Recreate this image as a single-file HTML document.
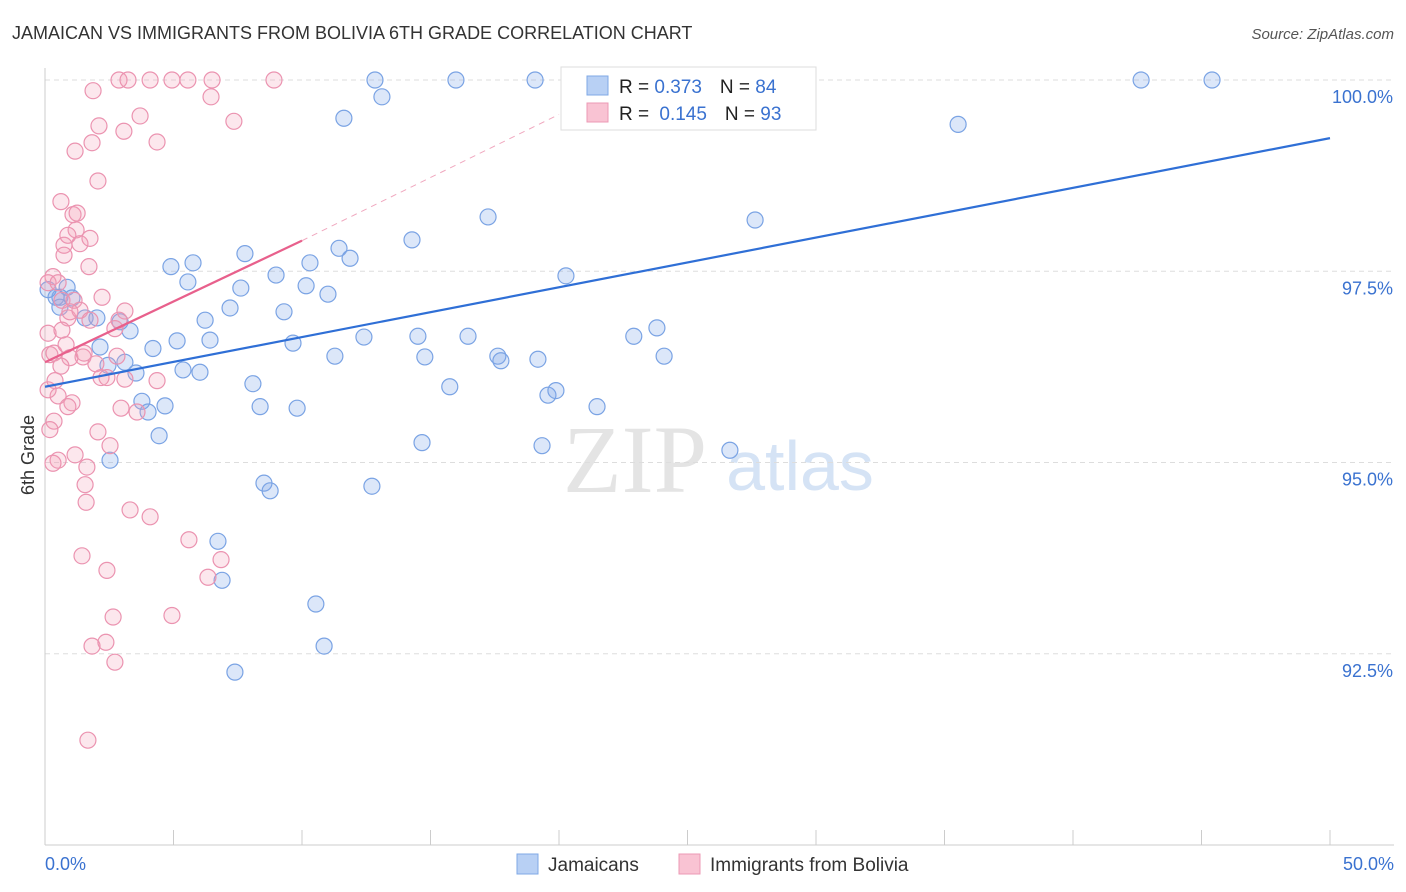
<!DOCTYPE html>
<html><head><meta charset="utf-8"><style>
body{margin:0;background:#fff;font-family:"Liberation Sans",sans-serif;}
svg{display:block}
</style></head><body>
<svg id="chart" width="1406" height="892">
<text x="12" y="39" font-size="18" fill="#333">JAMAICAN VS IMMIGRANTS FROM BOLIVIA 6TH GRADE CORRELATION CHART</text>
<text x="1394" y="39" font-size="15" fill="#555" text-anchor="end" font-style="italic">Source: ZipAtlas.com</text>
<text x="635" y="492" font-size="96" fill="#e4e4e4" font-family="Liberation Serif,serif" text-anchor="middle">ZIP</text>
<text x="800" y="490" font-size="70" fill="#d5e3f5" text-anchor="middle">atlas</text>
<g id="grid"></g><g id="axes"></g><g id="pts"></g><g id="lines"></g>
<text x="34" y="455" font-size="18" fill="#333" transform="rotate(-90 34 455)" text-anchor="middle">6th Grade</text>
<g>
<rect x="561" y="67" width="255" height="63" fill="#fff" stroke="#ddd"/>
<rect x="587" y="76" width="21" height="19" fill="#b8d0f4" stroke="#7fa8e6"/>
<rect x="587" y="103" width="21" height="19" fill="#f9c3d3" stroke="#ec9ab5"/>
<text x="619" y="93" font-size="19" fill="#222">R = <tspan fill="#3a72d0">0.373</tspan><tspan dx="18">N = </tspan><tspan fill="#3a72d0">84</tspan></text>
<text x="619" y="120" font-size="19" fill="#222">R = <tspan fill="#3a72d0" dx="5">0.145</tspan><tspan dx="18">N = </tspan><tspan fill="#3a72d0">93</tspan></text>
</g>
<g>
<rect x="517" y="854" width="21" height="20" fill="#b8d0f4" stroke="#7fa8e6"/>
<text x="548" y="871" font-size="19" fill="#333">Jamaicans</text>
<rect x="679" y="854" width="21" height="20" fill="#f9c3d3" stroke="#ec9ab5"/>
<text x="710" y="871" font-size="19" fill="#333">Immigrants from Bolivia</text>
</g>
</svg>
<script>
const blueX=[0.86,0.58,1.05,1.56,2.02,2.14,3.31,2.92,2.45,3.11,3.54,3.77,4.01,4.67,4.44,4.20,5.14,4.90,5.76,5.56,5.37,6.03,6.23,6.42,7.20,7.62,7.78,8.09,8.37,8.99,9.30,9.81,9.65,10.16,10.31,11.01,11.44,11.87,11.28,12.41,11.63,12.84,13.11,14.28,14.51,14.78,14.67,15.75,15.99,16.46,17.62,17.74,17.24,19.07,19.18,19.57,19.88,19.34,20.27,21.48,22.91,23.81,24.09,26.65,26.50,27.63,28.40,35.53,42.65,45.41,8.52,8.76,12.72,6.73,6.89,10.54,10.86,7.39,2.53,0.43,0.12,0.58];
const blueY=[97.29,97.16,97.15,96.89,96.89,96.51,96.72,96.84,96.27,96.31,96.17,95.80,95.66,95.74,95.35,96.49,96.59,97.56,97.61,97.36,96.21,96.18,96.86,96.60,97.02,97.28,97.73,96.03,95.73,97.45,96.97,95.71,96.56,97.31,97.61,97.20,97.80,97.67,96.39,96.64,99.50,100,99.78,97.91,96.65,96.38,95.26,95.99,100,96.65,96.39,96.33,98.21,100,96.35,95.88,95.94,95.22,97.44,95.73,96.65,96.76,96.39,95.16,100,98.17,100,99.42,100,100,94.73,94.63,94.69,93.97,93.46,93.15,92.60,92.26,95.03,97.16,97.26,97.03];
const pinkX=[0.31,0.12,0.51,0.66,1.13,0.89,1.36,0.97,0.62,1.09,1.25,0.74,1.21,1.36,0.89,0.74,1.75,1.71,2.06,1.83,1.17,2.10,1.87,2.88,3.23,4.09,4.94,5.56,6.50,8.91,3.07,3.70,4.36,6.46,7.35,0.12,0.19,0.35,0.82,0.97,1.48,1.52,1.98,2.22,2.72,3.11,2.88,2.80,3.11,2.18,0.39,0.51,1.05,0.89,0.12,0.35,0.19,2.06,2.53,1.17,0.51,0.31,1.63,1.56,1.60,2.96,3.58,4.36,3.31,4.09,5.60,6.85,6.34,1.44,2.41,2.65,4.94,1.83,2.37,2.72,1.67,0.66,2.41,0.62,1.75];
const pinkY=[97.43,97.35,97.35,97.12,97.12,96.89,96.99,96.97,98.41,98.24,98.26,97.84,98.04,97.86,97.97,97.71,97.93,97.56,98.68,99.18,99.07,99.40,99.86,100,100,100,100,100,100,100,99.33,99.53,99.19,99.78,99.46,96.69,96.41,96.43,96.54,96.37,96.38,96.43,96.29,97.16,96.75,96.98,96.86,96.39,96.09,96.11,96.07,95.87,95.78,95.73,95.95,95.54,95.43,95.40,95.22,95.10,95.03,94.99,94.94,94.71,94.48,95.71,95.66,96.07,94.38,94.29,93.99,93.73,93.50,93.78,93.59,92.98,93.00,92.60,92.65,92.39,91.37,96.73,96.11,96.26,96.86];
const yTicks=[100,97.5,95,92.5];
const yTickLabels=["100.0%","97.5%","95.0%","92.5%"];
const xTicks=[0,5,10,15,20,25,30,35,40,45,50];
const blueTrend=[[0,95.99],[50,99.24]];
const pinkTrend=[[0,96.31],[10,97.90]];
const pinkDash=[[10,97.90],[20,99.55]];
const NS="http://www.w3.org/2000/svg";
const sx=v=>45+v/50*1285;
const sy=v=>80+(100-v)/10*765;
function mk(tag,attrs,parent){const e=document.createElementNS(NS,tag);for(const k in attrs)e.setAttribute(k,attrs[k]);document.getElementById(parent).appendChild(e);return e;}
yTicks.forEach((t,i)=>{
  const l=mk('line',{x1:45,x2:1394,y1:sy(t),y2:sy(t),stroke:'#ddd','stroke-dasharray':'5,4'},'grid');
  
  
  const tx=mk('text',{x:1393,y:sy(t)+23,'font-size':18,fill:'#3a72d0','text-anchor':'end'},'grid');
  tx.textContent=yTickLabels[i];
  
  
});
const ax=mk('line',{x1:45,x2:45,y1:68,y2:845,stroke:'#ccc'},'axes');


const bx=mk('line',{x1:45,x2:1394,y1:845,y2:845,stroke:'#ccc'},'axes');


xTicks.forEach(t=>{
  const l=mk('line',{x1:sx(t),x2:sx(t),y1:830,y2:845,stroke:'#ccc'},'axes');
  
  
});
const x0=mk('text',{x:45,y:870,'font-size':18,fill:'#3a72d0'},'axes');x0.textContent=xTicks[0].toFixed(1)+'%';


const x1=mk('text',{x:1394,y:870,'font-size':18,fill:'#3a72d0','text-anchor':'end'},'axes');x1.textContent=xTicks[xTicks.length-1].toFixed(1)+'%';


blueX.forEach((x,i)=>{
  const c=mk('circle',{cx:sx(x),cy:sy(blueY[i]),r:8,fill:'rgba(130,170,235,0.28)',stroke:'#7aa3e4','stroke-width':1.2},'pts');
  
  
});
pinkX.forEach((x,i)=>{
  const c=mk('circle',{cx:sx(x),cy:sy(pinkY[i]),r:8,fill:'rgba(245,160,185,0.25)',stroke:'#eb93b0','stroke-width':1.2},'pts');
  
  
});
const bl=mk('line',{x1:sx(blueTrend[0][0]),y1:sy(blueTrend[0][1]),x2:sx(blueTrend[1][0]),y2:sy(blueTrend[1][1]),stroke:'#2f6fd6','stroke-width':2.2},'lines');


const pd=mk('line',{x1:sx(pinkDash[0][0]),y1:sy(pinkDash[0][1]),x2:sx(pinkDash[1][0]),y2:sy(pinkDash[1][1]),stroke:'#f0a8bf','stroke-width':1,'stroke-dasharray':'6,5'},'lines');


const pl=mk('line',{x1:sx(pinkTrend[0][0]),y1:sy(pinkTrend[0][1]),x2:sx(pinkTrend[1][0]),y2:sy(pinkTrend[1][1]),stroke:'#e8608c','stroke-width':2.2},'lines');


</script>
</body></html>
